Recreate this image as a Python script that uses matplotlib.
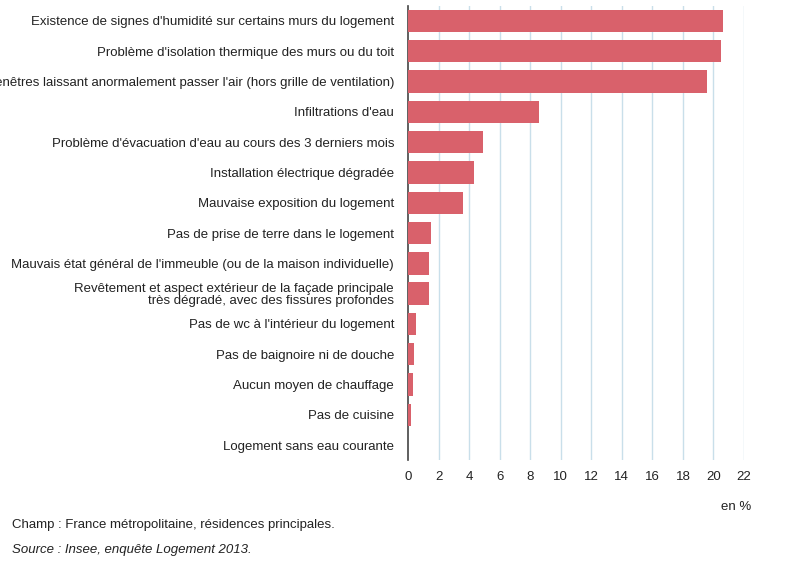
import matplotlib.pyplot as plt
plt.rcParams["font.family"] = ["Liberation Sans", "DejaVu Sans"]

categories = [
    "Existence de signes d'humidité sur certains murs du logement",
    "Problème d'isolation thermique des murs ou du toit",
    "Fenêtres laissant anormalement passer l'air (hors grille de ventilation)",
    "Infiltrations d'eau",
    "Problème d'évacuation d'eau au cours des 3 derniers mois",
    "Installation électrique dégradée",
    "Mauvaise exposition du logement",
    "Pas de prise de terre dans le logement",
    "Mauvais état général de l'immeuble (ou de la maison individuelle)",
    "Revêtement et aspect extérieur de la façade principale\ntrès dégradé, avec des fissures profondes",
    "Pas de wc à l'intérieur du logement",
    "Pas de baignoire ni de douche",
    "Aucun moyen de chauffage",
    "Pas de cuisine",
    "Logement sans eau courante",
]
values = [20.6, 20.5, 19.6, 8.6, 4.9, 4.3, 3.6, 1.5, 1.4, 1.4, 0.5, 0.4, 0.3, 0.2, 0.0]
xticks = list(range(0, 23, 2))

fig = plt.figure(figsize=(8, 5.79), dpi=100)
ax = fig.add_axes([0.51, 0.205, 0.42, 0.785])
y = list(range(len(categories)))
ax.barh(y, values, height=0.74, color="#d9616b", zorder=3)
ax.set_ylim(len(categories) - 0.5, -0.5)
ax.set_xlim(0, 22)
ax.set_xticks(xticks)
ax.set_xticklabels([str(t) for t in xticks], fontsize=9.5, color="#222222")
ax.set_yticks(y)
ax.set_yticklabels(categories, fontsize=9.5, color="#222222", ha="right", linespacing=1.0)
ax.tick_params(axis="y", length=0, pad=10)
ax.tick_params(axis="x", length=0, pad=8)
for t in xticks[1:]:
    ax.axvline(t, color="#c9dfea", lw=1, zorder=1)
for s in ["top", "right", "bottom"]:
    ax.spines[s].set_visible(False)
ax.spines["left"].set_color("#444444")
ax.spines["left"].set_linewidth(1.2)
fig.text(0.92, 0.12, "en %", fontsize=9.5, color="#222222", ha="center")
fig.text(0.015, 0.088, "Champ : France métropolitaine, résidences principales.", fontsize=9.5, color="#222222")
fig.text(0.015, 0.045, "Source : Insee, enquête Logement 2013.", fontsize=9.5, color="#222222", style="italic")
fig.savefig("out.png", dpi=100)
